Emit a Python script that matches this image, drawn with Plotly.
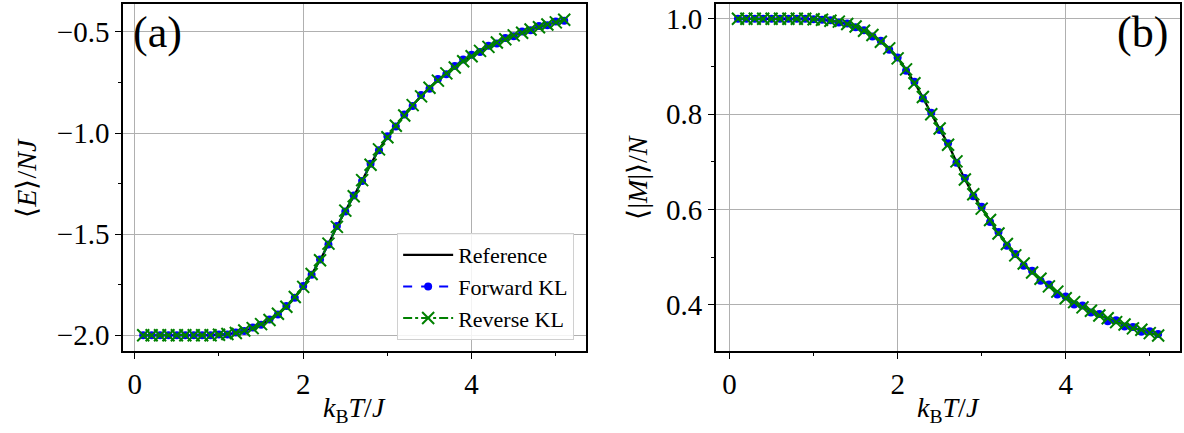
import plotly.graph_objects as go
from plotly.subplots import make_subplots

T = [0.1, 0.2, 0.3, 0.4, 0.5, 0.6, 0.7, 0.8, 0.9, 1.0,
     1.1, 1.2, 1.3, 1.4, 1.5, 1.6, 1.7, 1.8, 1.9, 2.0,
     2.1, 2.2, 2.3, 2.4, 2.5, 2.6, 2.7, 2.8, 2.9, 3.0,
     3.1, 3.2, 3.3, 3.4, 3.5, 3.6, 3.7, 3.8, 3.9, 4.0,
     4.1, 4.2, 4.3, 4.4, 4.5, 4.6, 4.7, 4.8, 4.9, 5.0, 5.1]

ref_E = [-2.000, -2.000, -2.000, -2.000, -2.000, -2.000, -2.000, -2.000, -1.999,
         -1.998, -1.995, -1.988, -1.978, -1.964, -1.946, -1.924, -1.895, -1.858, -1.812,
         -1.760, -1.698, -1.628, -1.548, -1.463, -1.385, -1.312, -1.234, -1.156, -1.082,
         -1.020, -0.965, -0.912, -0.863, -0.818, -0.777, -0.740, -0.706, -0.675, -0.646,
         -0.619, -0.595, -0.573, -0.553, -0.535, -0.518, -0.503, -0.489, -0.476, -0.464,
         -0.452, -0.441]
fwd_E = [-2.000, -2.000, -2.000, -2.000, -2.000, -2.000, -2.000, -2.000, -2.000,
         -1.997, -1.996, -1.986, -1.979, -1.962, -1.948, -1.922, -1.897, -1.856, -1.815,
         -1.757, -1.701, -1.625, -1.551, -1.460, -1.388, -1.309, -1.237, -1.152, -1.085,
         -1.016, -0.968, -0.908, -0.867, -0.812, -0.781, -0.733, -0.710, -0.668, -0.636,
         -0.613, -0.599, -0.568, -0.557, -0.530, -0.521, -0.498, -0.492, -0.471, -0.467,
         -0.448, -0.445]
rev_E = [-2.000, -2.000, -2.000, -2.000, -2.000, -2.000, -2.000, -2.000, -2.000,
         -1.998, -1.994, -1.989, -1.977, -1.965, -1.945, -1.925, -1.894, -1.859, -1.811,
         -1.761, -1.697, -1.629, -1.547, -1.464, -1.384, -1.313, -1.233, -1.157, -1.081,
         -1.021, -0.964, -0.913, -0.862, -0.819, -0.776, -0.741, -0.705, -0.676, -0.645,
         -0.620, -0.594, -0.574, -0.552, -0.536, -0.517, -0.504, -0.488, -0.477, -0.463,
         -0.453, -0.440]

ref_M = [1.000, 1.000, 1.000, 1.000, 1.000, 1.000, 1.000, 1.000, 1.000,
         0.999, 0.998, 0.996, 0.993, 0.989, 0.983, 0.975, 0.965, 0.953, 0.937,
         0.918, 0.893, 0.866, 0.835, 0.801, 0.769, 0.737, 0.700, 0.664, 0.631,
         0.603, 0.577, 0.551, 0.527, 0.505, 0.486, 0.469, 0.454, 0.440, 0.427,
         0.415, 0.405, 0.396, 0.387, 0.379, 0.371, 0.365, 0.358, 0.352, 0.347,
         0.342, 0.337]
fwd_M = [1.000, 1.000, 1.000, 1.000, 1.000, 1.000, 1.000, 1.000, 1.000,
         0.999, 0.998, 0.997, 0.992, 0.990, 0.982, 0.976, 0.963, 0.954, 0.935,
         0.919, 0.891, 0.868, 0.833, 0.803, 0.767, 0.739, 0.698, 0.666, 0.628,
         0.606, 0.574, 0.553, 0.524, 0.507, 0.482, 0.472, 0.451, 0.443, 0.422,
         0.418, 0.401, 0.399, 0.384, 0.381, 0.366, 0.368, 0.355, 0.354, 0.344,
         0.345, 0.339]
rev_M = [1.000, 1.000, 1.000, 1.000, 1.000, 1.000, 1.000, 1.000, 1.000,
         0.999, 0.998, 0.996, 0.994, 0.989, 0.984, 0.975, 0.966, 0.952, 0.938,
         0.917, 0.894, 0.865, 0.836, 0.800, 0.770, 0.736, 0.701, 0.663, 0.632,
         0.602, 0.578, 0.550, 0.528, 0.504, 0.487, 0.468, 0.455, 0.439, 0.428,
         0.414, 0.406, 0.395, 0.388, 0.378, 0.372, 0.364, 0.359, 0.351, 0.348,
         0.341, 0.336]

series_names = ["Reference", "Forward KL", "Reverse KL"]

FONT = "'Liberation Serif', 'Times New Roman', Times, serif"
W, H = 1184, 433
L, R, TOP, B = 123, 2, 3, 82
pw = W - L - R
ph = H - TOP - B
xa_dom = [0, (587 - L) / pw]
xb_dom = [(717 - L) / pw, 1]

fig = make_subplots(rows=1, cols=2)

for col, (ref, fwd, rev) in enumerate([(ref_E, fwd_E, rev_E), (ref_M, fwd_M, rev_M)], start=1):
    show = col == 1
    fig.add_trace(go.Scatter(x=T, y=ref, mode="lines", name=series_names[0],
                             line=dict(color="black", width=2.2, shape="spline"),
                             showlegend=show), row=1, col=col)
    fig.add_trace(go.Scatter(x=T, y=fwd, mode="lines+markers", name=series_names[1],
                             line=dict(color="blue", width=2, dash="dash"),
                             marker=dict(symbol="circle", size=8, color="blue"),
                             showlegend=show), row=1, col=col)
    fig.add_trace(go.Scatter(x=T, y=rev, mode="lines+markers", name=series_names[2],
                             line=dict(color="green", width=2, dash="dashdot"),
                             marker=dict(symbol="x-thin", size=12, color="green",
                                         line=dict(color="green", width=2)),
                             showlegend=show), row=1, col=col)

axis_common = dict(showline=True, linecolor="black", linewidth=1.5, mirror=True,
                   ticks="outside", ticklen=6, tickwidth=1.3, tickcolor="black",
                   showgrid=True, gridcolor="#b0b0b0", gridwidth=1.2, zeroline=False,
                   tickfont=dict(family=FONT, size=29, color="black"))

fig.update_xaxes(**axis_common, tick0=0, dtick=2,
                 minor=dict(dtick=1, ticklen=3.5, tickwidth=1, tickcolor="black",
                            ticks="outside", showgrid=False))
fig.update_layout(xaxis=dict(domain=xa_dom, range=[-0.14, 5.36]),
                  xaxis2=dict(domain=xb_dom, range=[-0.163, 5.36]))
fig.update_yaxes(**axis_common)
fig.update_layout(
    yaxis=dict(range=[-2.078, -0.362], tick0=0, dtick=0.5, tickformat=".1f",
               minor=dict(dtick=0.25, ticklen=3.5, tickwidth=1, tickcolor="black",
                          ticks="outside", showgrid=False)),
    yaxis2=dict(range=[0.3035, 1.031], tick0=0, dtick=0.2, tickformat=".1f",
                minor=dict(dtick=0.1, ticklen=3.5, tickwidth=1, tickcolor="black",
                           ticks="outside", showgrid=False)),
)

ann = []
def px_x(x):
    return (x - L) / pw
def px_y(y):
    return (H - B - y) / ph

ann.append(dict(text="(a)", x=px_x(158), y=px_y(32), xref="paper", yref="paper",
                showarrow=False, xanchor="center", yanchor="middle",
                font=dict(family=FONT, size=44, color="black")))
ann.append(dict(text="(b)", x=px_x(1144), y=px_y(32), xref="paper", yref="paper",
                showarrow=False, xanchor="center", yanchor="middle",
                font=dict(family=FONT, size=44, color="black")))
xt = "<i>k</i><sub>B</sub><i>T</i>/<i>J</i>"
for cx in (355, 950):
    ann.append(dict(text=xt, x=px_x(cx), y=px_y(410), xref="paper", yref="paper",
                    showarrow=False, xanchor="center", yanchor="middle",
                    font=dict(family=FONT, size=28, color="black")))
ann.append(dict(text="⟨<i>E</i>⟩/<i>NJ</i>", x=px_x(26), y=px_y(177), xref="paper", yref="paper",
                showarrow=False, xanchor="center", yanchor="middle", textangle=-90,
                font=dict(family=FONT, size=28, color="black")))
ann.append(dict(text="⟨|<i>M</i>|⟩/<i>N</i>", x=px_x(638), y=px_y(177), xref="paper", yref="paper",
                showarrow=False, xanchor="center", yanchor="middle", textangle=-90,
                font=dict(family=FONT, size=28, color="black")))

fig.update_layout(
    width=W, height=H,
    margin=dict(l=L, r=R, t=TOP, b=B),
    paper_bgcolor="white", plot_bgcolor="white",
    annotations=ann,
    legend=dict(x=px_x(575), y=px_y(340), xanchor="right", yanchor="bottom",
                bgcolor="rgba(255,255,255,0.85)", bordercolor="#d0d0d0", borderwidth=1,
                itemwidth=50,
                font=dict(family=FONT, size=22, color="black"), tracegroupgap=0),
)

fig.write_html("out.html", config={"displayModeBar": False},
               post_script="document.body.style.margin='0px';document.body.style.padding='0px';")
